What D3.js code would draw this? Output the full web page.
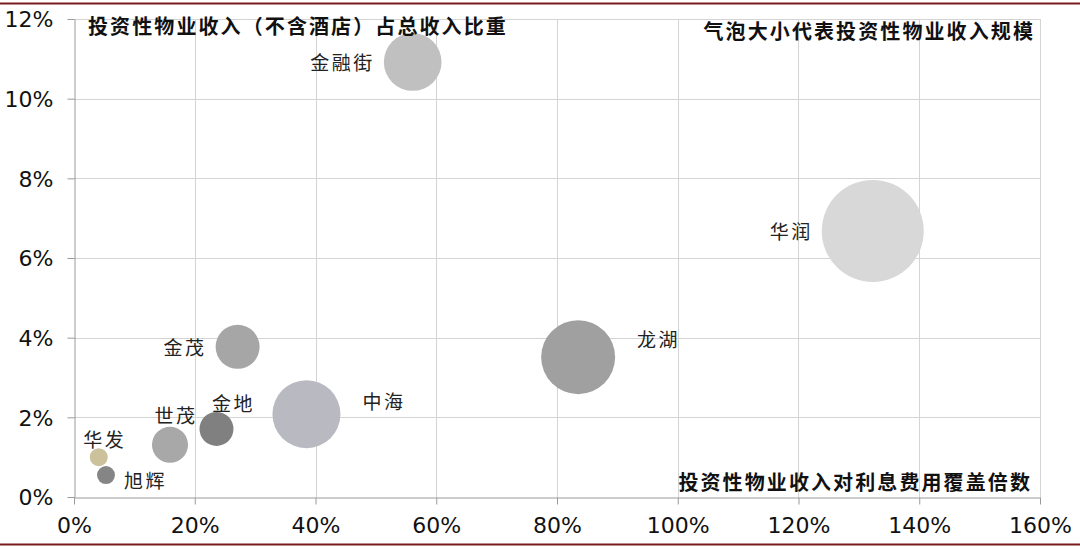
<!DOCTYPE html>
<html><head><meta charset="utf-8">
<script src="https://cdn.jsdelivr.net/npm/d3@7"></script>
<style>
html,body{margin:0;padding:0;background:#fff;}
svg{display:block;}
</style></head>
<body><svg id="chart" width="1080" height="547"></svg>
<script>
// ---- data ----
const companies = ["金融街","华润","龙湖","中海","金茂","金地","世茂","华发","旭辉"];
const coverage  = [0.561, 1.323, 0.835, 0.385, 0.271, 0.236, 0.159, 0.041, 0.053]; // x
const share     = [0.1092, 0.0668, 0.0351, 0.0208, 0.0377, 0.0171, 0.0131, 0.0100, 0.0055]; // y
const scale     = [32, 100, 52.6, 44.4, 18.6, 11.1, 12.5, 3.1, 3.1]; // bubble size
const xTicks = [0,0.2,0.4,0.6,0.8,1.0,1.2,1.4,1.6];
const yTicks = [0,0.02,0.04,0.06,0.08,0.10,0.12];
const yTitle = "投资性物业收入（不含酒店）占总收入比重";
const sizeNote = "气泡大小代表投资性物业收入规模";
const xTitle = "投资性物业收入对利息费用覆盖倍数";

// ---- styles ----
const colors = {"金融街":"#c0c0c0","华润":"#d8d8d8","龙湖":"#a0a0a0","中海":"#b9b9c1","金茂":"#a6a6a6","金地":"#808080","世茂":"#a8a8a8","华发":"#cbc29c","旭辉":"#858585"};
// label placement: [anchor, side, dx, dy] relative to bubble
const labelPos = {
  "金融街":["end","L",0,1],
  "华润":["end","L",0,1],
  "龙湖":["start","R",22,-17],
  "中海":["start","R",22,-12],
  "金茂":["end","L",0,2],
  "金地":["middle","T",17,-8],
  "世茂":["middle","T",6,-10],
  "华发":["middle","T",6,-8],
  "旭辉":["start","C",18,6]
};

const svg = d3.select("#chart");
const W = 1080, H = 547;
const x = d3.scaleLinear().domain([0,1.6]).range([74,1040]);
const y = d3.scaleLinear().domain([0,0.12]).range([497,19]);
const r = d3.scaleSqrt().domain([0,100]).range([0,51]);

// frame lines
svg.append("line").attr("x1",0).attr("x2",W).attr("y1",3.5).attr("y2",3.5).attr("stroke","#7b1c1c").attr("stroke-width",2);
svg.append("line").attr("x1",0).attr("x2",W).attr("y1",544.5).attr("y2",544.5).attr("stroke","#7b1c1c").attr("stroke-width",2);

// grid
const g = svg.append("g");
g.selectAll(".vg").data(xTicks.slice(1)).enter().append("line")
  .attr("x1",d=>Math.round(x(d))+0.5).attr("x2",d=>Math.round(x(d))+0.5)
  .attr("y1",y(0.12)).attr("y2",y(0)).attr("stroke","#d4d4d4").attr("stroke-width",1);
g.selectAll(".hg").data(yTicks.slice(1)).enter().append("line")
  .attr("y1",d=>Math.round(y(d))+0.5).attr("y2",d=>Math.round(y(d))+0.5)
  .attr("x1",x(0)).attr("x2",x(1.6)).attr("stroke","#d4d4d4").attr("stroke-width",1);

// axes
const fmt = d3.format(".0%");
const xAxis = svg.append("g").attr("transform",`translate(0,${Math.round(y(0))+0.5})`)
  .call(d3.axisBottom(x).tickValues(xTicks).tickFormat(fmt).tickSize(7).tickSizeOuter(0));
const yAxis = svg.append("g").attr("transform",`translate(${Math.round(x(0))+0.5},0)`)
  .call(d3.axisLeft(y).tickValues(yTicks).tickFormat(fmt).tickSize(7).tickSizeOuter(0));
[xAxis,yAxis].forEach(a=>{
  a.select(".domain").attr("stroke","#9a9a9a");
  a.selectAll(".tick line").attr("stroke","#9a9a9a");
  a.selectAll("text").attr("font-family","'DejaVu Sans', Verdana, sans-serif").attr("font-size",22).attr("fill","#111");
});
xAxis.selectAll("text").attr("y",20).attr("dy","0.71em");
yAxis.selectAll("text").attr("x",-21).attr("dy","0.35em");

// bubbles
const data = companies.map((c,i)=>({name:c,xv:coverage[i],yv:share[i],s:scale[i]}));
svg.append("g").selectAll("circle").data(data.slice().sort((a,b)=>b.s-a.s)).enter().append("circle")
  .attr("cx",d=>x(d.xv)).attr("cy",d=>y(d.yv)).attr("r",d=>r(d.s))
  .attr("fill",d=>colors[d.name]);

// labels
const cjk = "'Noto Sans CJK SC', sans-serif";
svg.append("g").selectAll("text").data(data).enter().append("text")
  .attr("text-anchor",d=>labelPos[d.name][0])
  .attr("x",d=>{
    const p=labelPos[d.name], cx=x(d.xv), rr=r(d.s);
    if(p[1]==="L") return cx-rr-9+p[2];
    if(p[1]==="R") return cx+rr+p[2];
    return cx+p[2];
  })
  .attr("y",d=>{
    const p=labelPos[d.name], cy=y(d.yv), rr=r(d.s);
    if(p[1]==="T") return cy-rr+p[3];
    return cy+p[3];
  })
  .attr("dy","0.35em")
  .attr("font-family",cjk).attr("font-size",19).attr("letter-spacing",2.5).attr("fill","#222")
  .text(d=>d.name);

// annotations
function note(txt, xx, yy, anchor){
  svg.append("text").attr("x",xx).attr("y",yy).attr("dy","0.35em").attr("text-anchor",anchor)
    .attr("font-family",cjk).attr("font-size",20).attr("letter-spacing",2.1)
    .attr("font-weight","bold").attr("fill","#111").text(txt);
}
note(yTitle, 88, 27, "start");
note(sizeNote, 1035, 32, "end");
note(xTitle, 1032, 483, "end");
</script></body></html>
